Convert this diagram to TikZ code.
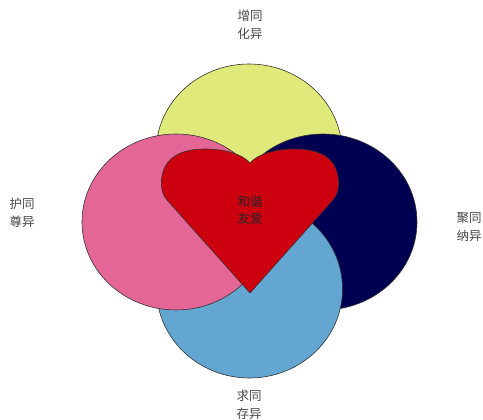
\documentclass[tikz,border=0pt]{standalone}
\usepackage{fontspec}
\newfontfamily\cjk{Noto Sans CJK SC}
\definecolor{cyellow}{RGB}{224,234,122}
\definecolor{cpink}{RGB}{228,102,150}
\definecolor{cnavy}{RGB}{0,0,82}
\definecolor{cblue}{RGB}{100,166,210}
\definecolor{cred}{RGB}{205,0,15}
\definecolor{cline}{RGB}{50,50,50}
\definecolor{ctext}{RGB}{70,70,70}
\tikzset{
  blob/.style={draw=cline, line width=0.6pt},
  lbl/.style={font=\cjk\fontsize{12.5}{18}\selectfont, text=ctext, align=center, inner sep=0pt},
  hlbl/.style={font=\cjk\fontsize{12.5}{17}\selectfont, text=black!85, align=center, inner sep=0pt}
}
\begin{document}
\begin{tikzpicture}[x=1pt,y=-1pt]
\useasboundingbox (0,0) rectangle (483,420);
% circles
\path[blob, fill=cyellow] (249,152) ellipse [x radius=93pt, y radius=88pt];
\path[blob, fill=cnavy] (323,222) ellipse [x radius=94pt, y radius=88pt];
\path[blob, fill=cblue] (249.5,289) ellipse [x radius=93pt, y radius=89pt];
\path[blob, fill=cpink] (176,222) ellipse [x radius=94pt, y radius=88pt];
% heart
\path[blob, fill=cred, line join=miter]
  (250,293) -- (167,200)
  .. controls (161,193) and (160,183) .. (163,172)
  .. controls (168,155) and (185,149) .. (205,149)
  .. controls (225,149) and (242,154) .. (250,163)
  .. controls (258,154) and (275,149) .. (295,149)
  .. controls (315,149) and (332,155) .. (337,172)
  .. controls (340,183) and (339,193) .. (333,200)
  -- cycle;
% texts
\node[hlbl] (center) at (250,210) {和谐\\友爱};
\node[lbl] (top) at (250,24.5) {增同\\化异};
\node[lbl] (left) at (22,212.5) {护同\\尊异};
\node[lbl] (right) at (469,227.5) {聚同\\纳异};
\node[lbl] (bottom) at (249,405) {求同\\存异};
\end{tikzpicture}
\end{document}
